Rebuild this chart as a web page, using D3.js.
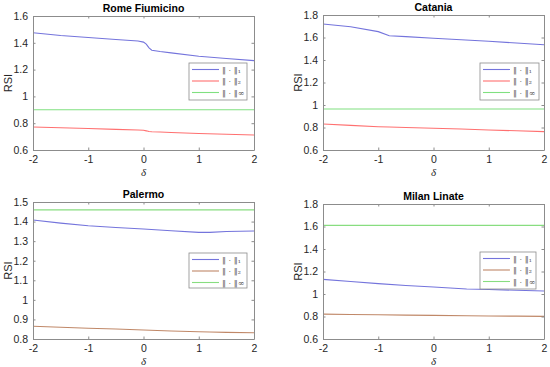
<!DOCTYPE html>
<html>
<head>
<meta charset="utf-8">
<script src="https://cdn.jsdelivr.net/npm/d3@7"></script>
<style>
  body { margin: 0; background: #fff; }
  text { font-family: "Liberation Sans", Arial, sans-serif; }
</style>
</head>
<body>
<div id="chart"></div>
<script>
// station titles
const titles = ["Rome Fiumicino", "Catania", "Palermo", "Milan Linate"];
const legendLabels = ["\u2016 \u00b7 \u2016\u2081", "\u2016 \u00b7 \u2016\u2082", "\u2016 \u00b7 \u2016\u221e"];
const xTicks = [-2, -1, 0, 1, 2];

// Rome Fiumicino
const romeX    = [-2, -1.5, -1, -0.5, -0.1, 0, 0.05, 0.1, 0.15, 0.3, 0.5, 1, 1.5, 2];
const romeN1   = [1.475, 1.455, 1.44, 1.425, 1.413, 1.405, 1.39, 1.362, 1.345, 1.335, 1.325, 1.30, 1.283, 1.267];
const romeN2   = [0.772, 0.766, 0.76, 0.754, 0.749, 0.747, 0.743, 0.738, 0.736, 0.734, 0.731, 0.723, 0.717, 0.712];
const romeInf  = [0.90, 0.90, 0.90, 0.90, 0.90, 0.90, 0.90, 0.90, 0.90, 0.90, 0.90, 0.90, 0.90, 0.90];

// Catania
const cataniaX   = [-2, -1.5, -1, -0.8, -0.5, 0, 0.5, 1, 1.5, 2];
const cataniaN1  = [1.72, 1.695, 1.652, 1.616, 1.608, 1.593, 1.58, 1.566, 1.551, 1.536];
const cataniaN2  = [0.831, 0.819, 0.807, 0.804, 0.800, 0.793, 0.786, 0.778, 0.771, 0.763];
const cataniaInf = [0.965, 0.965, 0.965, 0.965, 0.965, 0.965, 0.965, 0.965, 0.965, 0.965];

// Palermo
const palermoX   = [-2, -1.5, -1, -0.5, 0, 0.5, 1, 1.2, 1.5, 2];
const palermoN1  = [1.408, 1.392, 1.379, 1.37, 1.362, 1.353, 1.345, 1.345, 1.349, 1.352];
const palermoN2  = [0.865, 0.860, 0.855, 0.851, 0.846, 0.841, 0.837, 0.836, 0.834, 0.832];
const palermoInf = [1.46, 1.46, 1.46, 1.46, 1.46, 1.46, 1.46, 1.46, 1.46, 1.46];

// Milan Linate
const milanX   = [-2, -1.5, -1, -0.5, 0, 0.6, 1, 1.5, 2];
const milanN1  = [1.130, 1.111, 1.092, 1.076, 1.062, 1.044, 1.040, 1.033, 1.027];
const milanN2  = [0.821, 0.818, 0.815, 0.812, 0.810, 0.807, 0.805, 0.803, 0.801];
const milanInf = [1.61, 1.61, 1.61, 1.61, 1.61, 1.61, 1.61, 1.61, 1.61];

const panels = [
  { title: titles[0], x: romeX, series: [romeN1, romeN2, romeInf], yDomain: [0.6, 1.6], yTicks: [0.6, 0.8, 1, 1.2, 1.4, 1.6],
    box: [33, 16, 254, 150], legend: [189, 63, 58, 37], colors: ["#7474dc", "#ff7070", "#80e080"] },
  { title: titles[1], x: cataniaX, series: [cataniaN1, cataniaN2, cataniaInf], yDomain: [0.6, 1.8], yTicks: [0.6, 0.8, 1, 1.2, 1.4, 1.6, 1.8],
    box: [323, 15, 544, 150], legend: [480, 63, 59, 37], colors: ["#7474dc", "#ff7070", "#80e080"] },
  { title: titles[2], x: palermoX, series: [palermoN1, palermoN2, palermoInf], yDomain: [0.8, 1.5], yTicks: [0.8, 0.9, 1, 1.1, 1.2, 1.3, 1.4, 1.5],
    box: [33, 202, 254, 339], legend: [189, 253, 58, 35], colors: ["#7474dc", "#c08868", "#88dd80"] },
  { title: titles[3], x: milanX, series: [milanN1, milanN2, milanInf], yDomain: [0.6, 1.8], yTicks: [0.6, 0.8, 1, 1.2, 1.4, 1.6, 1.8],
    box: [323, 204, 544, 339], legend: [480, 252, 56, 37], colors: ["#7474dc", "#c08868", "#88dd80"] }
];

const svg = d3.select("#chart").append("svg")
  .attr("width", 550)
  .attr("height", 367);

// plain hyphen for negatives, like the original
const fmt = d => String(+d.toFixed(2));

panels.forEach(p => {
  const [x0, y0, x1, y1] = p.box;
  const x = d3.scaleLinear().domain([-2, 2]).range([x0, x1]);
  const y = d3.scaleLinear().domain(p.yDomain).range([y1, y0]);
  const g = svg.append("g");

  // data lines
  const line = d3.line().x((d, i) => x(p.x[i])).y(d => y(d));
  p.series.forEach((s, k) => {
    g.append("path")
      .datum(s)
      .attr("d", line)
      .attr("fill", "none")
      .attr("stroke", p.colors[k])
      .attr("stroke-width", 1.1);
  });

  // axes (ticks inward, box on)
  const axColor = "#8c8c8c";
  const bottom = g.append("g").attr("transform", `translate(0,${y1})`)
    .call(d3.axisBottom(x).tickValues(xTicks).tickSizeInner(-2.5).tickSizeOuter(0).tickPadding(6).tickFormat(fmt));
  const left = g.append("g").attr("transform", `translate(${x0},0)`)
    .call(d3.axisLeft(y).tickValues(p.yTicks).tickSizeInner(-2.5).tickSizeOuter(0).tickPadding(5).tickFormat(fmt));
  const top = g.append("g").attr("transform", `translate(0,${y0})`)
    .call(d3.axisTop(x).tickValues(xTicks).tickSizeInner(-2.5).tickSizeOuter(0).tickFormat(""));
  const right = g.append("g").attr("transform", `translate(${x1},0)`)
    .call(d3.axisRight(y).tickValues(p.yTicks).tickSizeInner(-2.5).tickSizeOuter(0).tickFormat(""));
  [bottom, left, top, right].forEach(a => {
    a.selectAll(".domain").attr("stroke", axColor);
    a.selectAll(".tick line").attr("stroke", axColor);
    a.selectAll("text").attr("fill", "#262626").style("font-size", "10.5px");
  });

  // title and labels
  g.append("text")
    .attr("x", (x0 + x1) / 2).attr("y", y0 - 4)
    .attr("text-anchor", "middle")
    .style("font-size", "10.5px").style("font-weight", "bold")
    .attr("fill", "#000")
    .text(p.title);
  g.append("text")
    .attr("x", (x0 + x1) / 2).attr("y", y1 + 26)
    .attr("text-anchor", "middle")
    .style("font-size", "11px").style("font-style", "italic")
    .style("font-family", "'Liberation Serif', serif")
    .attr("fill", "#262626")
    .text("\u03b4");
  g.append("text")
    .attr("transform", `translate(${x0 - 21},${(y0 + y1) / 2}) rotate(-90)`)
    .attr("text-anchor", "middle")
    .style("font-size", "11px")
    .attr("fill", "#262626")
    .text("RSI");

  // legend
  const [lx, ly, lw, lh] = p.legend;
  const lg = g.append("g").attr("transform", `translate(${lx},${ly})`);
  lg.append("rect")
    .attr("width", lw).attr("height", lh)
    .attr("fill", "#fff").attr("stroke", "#8c8c8c").attr("stroke-width", 0.8);
  p.colors.forEach((c, k) => {
    const yy = 6.5 + k * 11.5;
    lg.append("line")
      .attr("x1", 3).attr("x2", 30).attr("y1", yy).attr("y2", yy)
      .attr("stroke", c).attr("stroke-width", 1.1);
    lg.append("text")
      .attr("x", 33).attr("y", yy + 3)
      .style("font-size", "8px")
      .style("font-family", "'DejaVu Serif', serif")
      .attr("fill", "#555")
      .text(legendLabels[k]);
  });
});
</script>
</body>
</html>
